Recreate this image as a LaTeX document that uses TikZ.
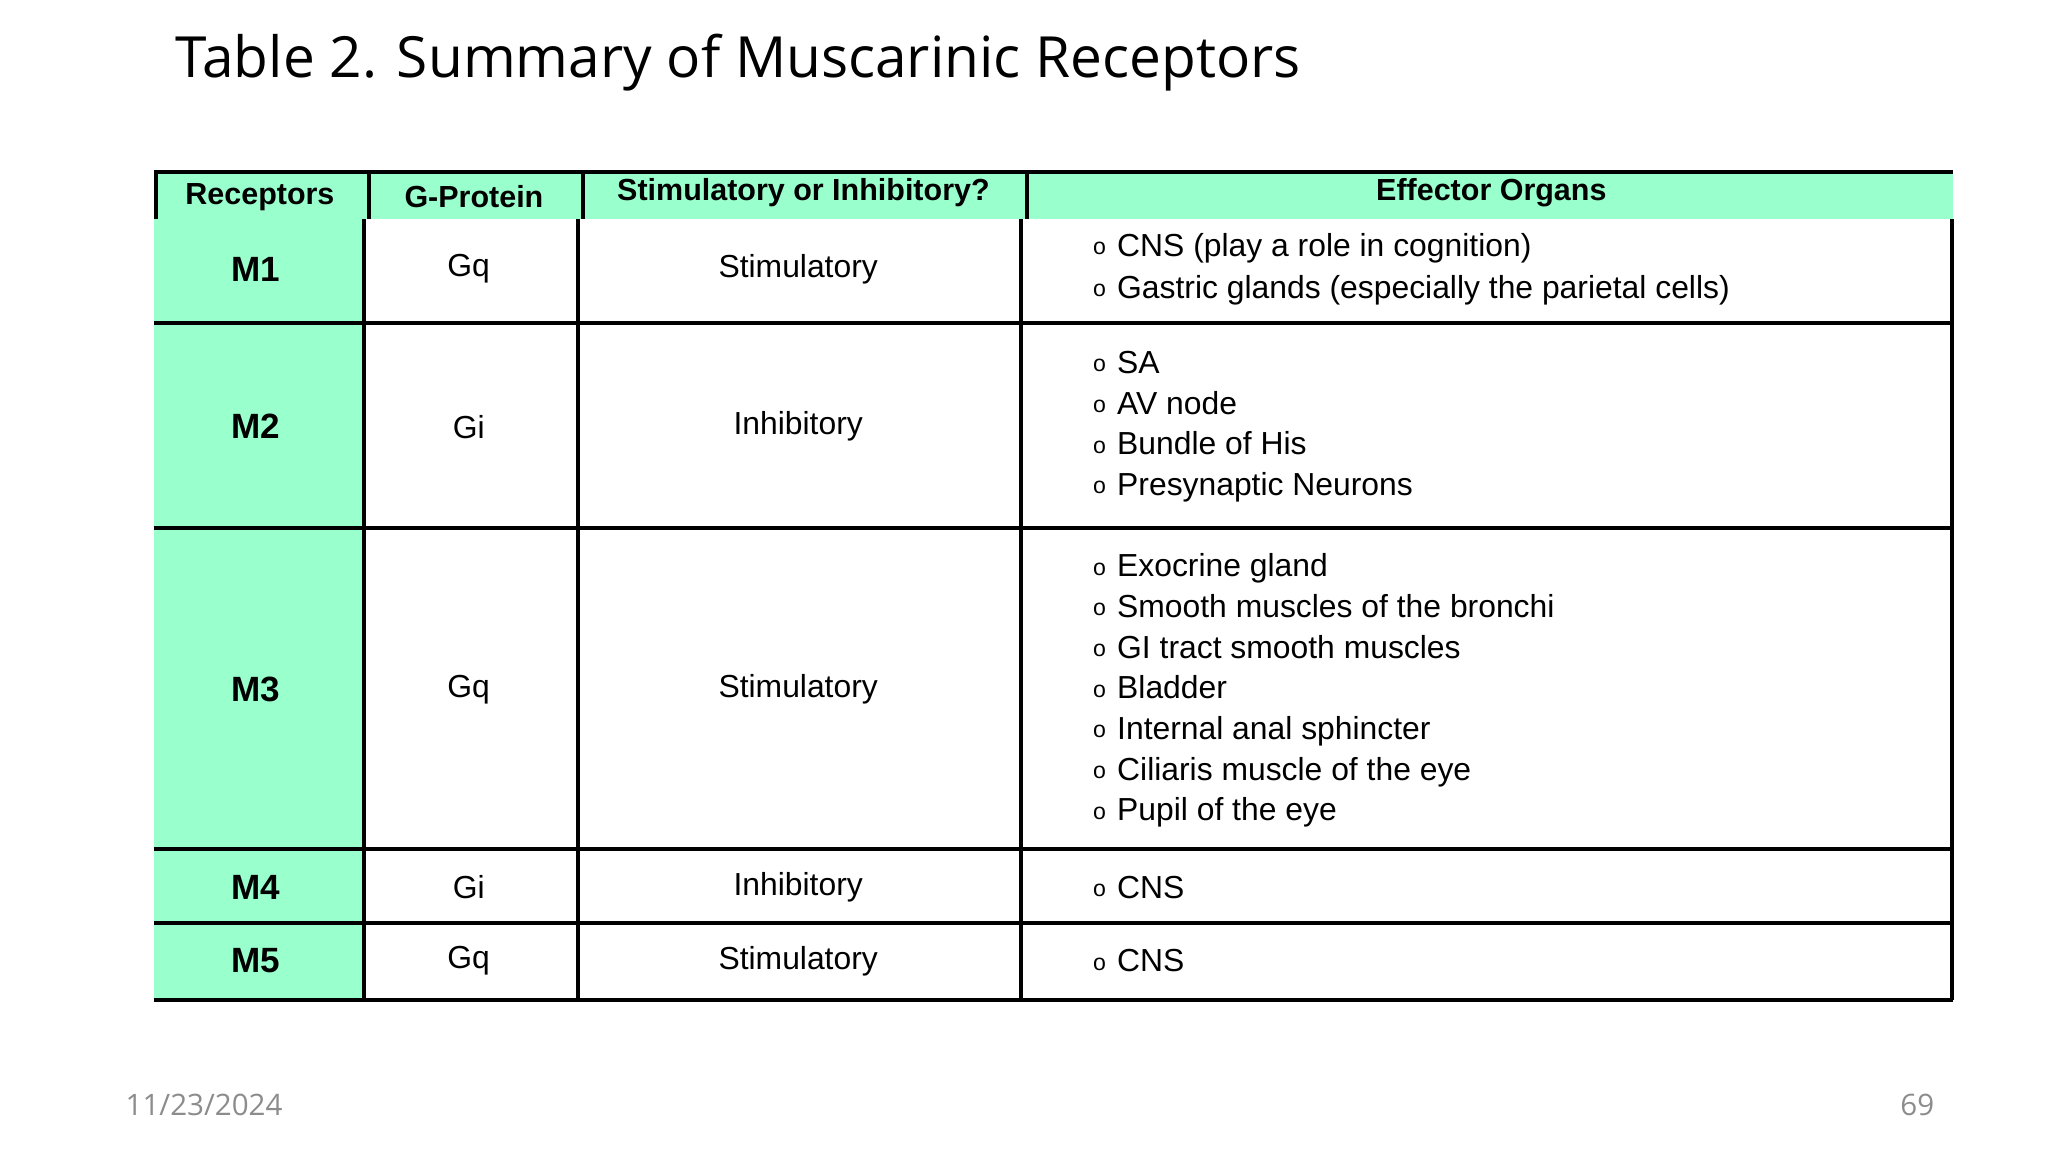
\documentclass[tikz,border=0pt]{standalone}
\usepackage{fontspec}
\setmainfont{Liberation Sans}
\newfontfamily\titlefont{Open Sans}
\definecolor{mint}{HTML}{99FFCC}
\definecolor{dategray}{HTML}{8C8C8C}
\begin{document}
\begin{tikzpicture}[x=0.01cm,y=-0.01cm,
  cell/.style={font=\fontsize{6.9pt}{8pt}\selectfont, inner sep=0pt},
  hdr/.style={font=\bfseries\fontsize{6.6pt}{8pt}\selectfont, inner sep=0pt},
  rec/.style={font=\bfseries\fontsize{7.6pt}{8pt}\selectfont, inner sep=0pt},
  eff/.style={font=\fontsize{6.9pt}{8.8pt}\selectfont, inner sep=0pt, anchor=west, align=left},
  rule/.style={line width=0.85pt}]
\useasboundingbox (0,0) rectangle (1560,877.5);
\fill[white] (0,0) rectangle (1560,877.5);
% fills
\fill[mint] (117,131) rectangle (1488,167);
\fill[mint] (117,167) rectangle (277,762);
% title
\node[anchor=base west, inner sep=0pt, font=\titlefont\fontsize{12.3pt}{14pt}\selectfont] (title) at (133,59) {Table 2. Summary of Muscarinic Receptors};
% header lines
\draw[rule] (117,131) -- (1488,131);
\draw[rule] (119,131) -- (119,167);
\draw[rule] (281,131) -- (281,167);
\draw[rule] (444,131) -- (444,167);
\draw[rule] (782,131) -- (782,167);
% body lines
\foreach \y in {246,402,647,703,762} \draw[rule] (117,\y) -- (1488,\y);
\draw[rule] (277,167) -- (277,762);
\draw[rule] (440,167) -- (440,762);
\draw[rule] (778,167) -- (778,762);
\draw[rule] (1487,167) -- (1487,762);
% header text
\node[hdr] (h1) at (198,150) {Receptors};
\node[hdr] (h2) at (361,150) {G-Protein};
\node[hdr] (h3) at (612,147) {Stimulatory or Inhibitory?};
\node[hdr] (h4) at (1136,147) {Effector Organs};
% rows
\foreach \n/\r/\g/\s/\y in {a/M1/Gq/Stimulatory/205, b/M2/Gi/Inhibitory/325, c/M3/Gq/Stimulatory/525, d/M4/Gi/Inhibitory/676, e/M5/Gq/Stimulatory/732}{
  \node[rec] (r\n) at (195,\y) {\r};
  \node[cell] (g\n) at (357,\y) {\g};
  \node[cell] (s\n) at (608,\y) {\s};
}
\newcommand{\bul}{\raisebox{0.1ex}{\fontsize{5pt}{5pt}\selectfont o}\hspace{0.35em}}
\node[eff] (ea) at (832,205) {\bul CNS (play a role in cognition)\\[0.4pt]\bul Gastric glands (especially the parietal cells)};
\node[eff] (eb) at (832,325) {\bul SA\\\bul AV node\\\bul Bundle of His\\\bul Presynaptic Neurons};
\node[eff] (ec) at (832,526) {\bul Exocrine gland\\\bul Smooth muscles of the bronchi\\\bul GI tract smooth muscles\\\bul Bladder\\\bul Internal anal sphincter\\\bul Ciliaris muscle of the eye\\\bul Pupil of the eye};
\node[eff] (ed) at (832,676) {\bul CNS};
\node[eff] (ee) at (832,732) {\bul CNS};
% footer
\node[anchor=base west, inner sep=0pt, text=dategray, font=\titlefont\fontsize{6.4pt}{8pt}\selectfont] (date) at (95,850) {11/23/2024};
\node[anchor=base east, inner sep=0pt, text=dategray, font=\titlefont\fontsize{6.4pt}{8pt}\selectfont] (page) at (1474,850) {69};
\end{tikzpicture}
\end{document}
